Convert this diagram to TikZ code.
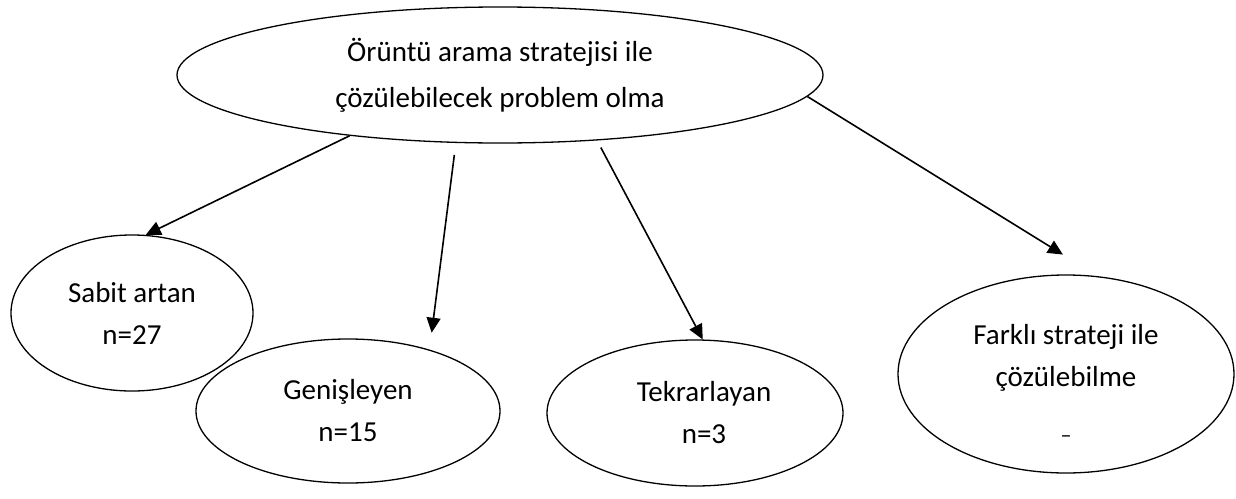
\documentclass[tikz,border=0pt]{standalone}
\usepackage{fontspec}
\setmainfont{Carlito}
\usetikzlibrary{arrows.meta,shapes.geometric}

\begin{document}
\begin{tikzpicture}[x=1pt, y=-1pt, every node/.style={font=\fontsize{29}{42}\selectfont}, oval/.style={ellipse, draw, line width=1.3pt, inner sep=0pt, align=center}, arrow/.style={-{Triangle[length=15pt, width=14pt]}, line width=1.6pt}]
\useasboundingbox (0,0) rectangle (1236,498);
\node[oval, minimum width=646pt, minimum height=136pt, font=\fontsize{29}{46}\selectfont] (orunt) at (500,75) {Örüntü arama stratejisi ile\\çözülebilecek problem olma};
\node[oval, minimum width=242pt, minimum height=156pt] (sabit) at (132,313) {Sabit artan\\n=27};
\node[oval, minimum width=304pt, minimum height=144pt] (genis) at (348,411) {Genişleyen\\n=15};
\node[oval, minimum width=296pt, minimum height=146pt] (tekrar) at (695,413) {\hspace*{18pt}Tekrarlayan\\\hspace*{18pt}n=3};
\node[oval, minimum width=336pt, minimum height=198pt] (farkli) at (1066,374) {\rule{0pt}{38pt}Farklı strateji ile\\çözülebilme\\[14pt]{\fontsize{22}{22}\selectfont –}};
\draw[arrow] (orunt.202) -- (sabit.80.5);
\draw[arrow, shorten <=12pt, shorten >=17pt] (orunt.237) -- (genis.37);
\draw[arrow, shorten <=8pt] (orunt.326.5) -- (tekrar.84);
\draw[arrow, shorten >=41pt] (orunt.356) -- (farkli.72.4);
\end{tikzpicture}
\end{document}
